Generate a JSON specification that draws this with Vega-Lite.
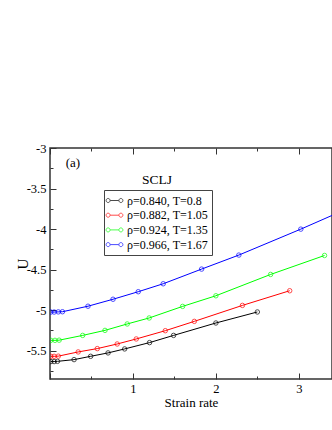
{
  "$schema": "https://vega.github.io/schema/vega-lite/v6.json",
  "width": 282,
  "height": 231,
  "autosize": {"type": "none"},
  "padding": {"left": 50, "top": 148, "right": 0, "bottom": 51},
  "background": "white",
  "config": {
    "font": "Liberation Serif",
    "view": {"stroke": "#333", "strokeWidth": 1.5},
    "axis": {"grid": false, "domain": false, "tickColor": "#333", "labelColor": "black", "titleColor": "black", "labelFont": "Liberation Serif", "titleFont": "Liberation Serif", "labelFontSize": 12.5, "titleFontSize": 13, "titleFontWeight": "normal"},
    "legend": {"labelFont": "Liberation Serif"},
    "text": {"font": "Liberation Serif"}
  },
  "data": {
    "values": [
      {"s": "ρ=0.840, T=0.8", "x": 0.01, "y": -5.635},
      {"s": "ρ=0.840, T=0.8", "x": 0.05, "y": -5.635},
      {"s": "ρ=0.840, T=0.8", "x": 0.09, "y": -5.632},
      {"s": "ρ=0.840, T=0.8", "x": 0.29, "y": -5.611},
      {"s": "ρ=0.840, T=0.8", "x": 0.49, "y": -5.57},
      {"s": "ρ=0.840, T=0.8", "x": 0.7, "y": -5.528},
      {"s": "ρ=0.840, T=0.8", "x": 0.9, "y": -5.479},
      {"s": "ρ=0.840, T=0.8", "x": 1.2, "y": -5.401},
      {"s": "ρ=0.840, T=0.8", "x": 1.49, "y": -5.312},
      {"s": "ρ=0.840, T=0.8", "x": 2.0, "y": -5.159},
      {"s": "ρ=0.840, T=0.8", "x": 2.5, "y": -5.023},
      {"s": "ρ=0.882, T=1.05", "x": 0.01, "y": -5.57},
      {"s": "ρ=0.882, T=1.05", "x": 0.05, "y": -5.57},
      {"s": "ρ=0.882, T=1.05", "x": 0.1, "y": -5.568},
      {"s": "ρ=0.882, T=1.05", "x": 0.34, "y": -5.516},
      {"s": "ρ=0.882, T=1.05", "x": 0.57, "y": -5.475},
      {"s": "ρ=0.882, T=1.05", "x": 0.81, "y": -5.418},
      {"s": "ρ=0.882, T=1.05", "x": 1.04, "y": -5.356},
      {"s": "ρ=0.882, T=1.05", "x": 1.39, "y": -5.254},
      {"s": "ρ=0.882, T=1.05", "x": 1.74, "y": -5.139},
      {"s": "ρ=0.882, T=1.05", "x": 2.32, "y": -4.942},
      {"s": "ρ=0.882, T=1.05", "x": 2.89, "y": -4.761},
      {"s": "ρ=0.924, T=1.35", "x": 0.01, "y": -5.373},
      {"s": "ρ=0.924, T=1.35", "x": 0.06, "y": -5.373},
      {"s": "ρ=0.924, T=1.35", "x": 0.11, "y": -5.371},
      {"s": "ρ=0.924, T=1.35", "x": 0.394, "y": -5.312},
      {"s": "ρ=0.924, T=1.35", "x": 0.663, "y": -5.25},
      {"s": "ρ=0.924, T=1.35", "x": 0.931, "y": -5.171},
      {"s": "ρ=0.924, T=1.35", "x": 1.196, "y": -5.097},
      {"s": "ρ=0.924, T=1.35", "x": 1.599, "y": -4.954},
      {"s": "ρ=0.924, T=1.35", "x": 2.0, "y": -4.823},
      {"s": "ρ=0.924, T=1.35", "x": 2.66, "y": -4.56},
      {"s": "ρ=0.924, T=1.35", "x": 3.31, "y": -4.326},
      {"s": "ρ=0.966, T=1.67", "x": 0.01, "y": -5.024},
      {"s": "ρ=0.966, T=1.67", "x": 0.05, "y": -5.024},
      {"s": "ρ=0.966, T=1.67", "x": 0.1, "y": -5.022},
      {"s": "ρ=0.966, T=1.67", "x": 0.15, "y": -5.02},
      {"s": "ρ=0.966, T=1.67", "x": 0.458, "y": -4.952},
      {"s": "ρ=0.966, T=1.67", "x": 0.76, "y": -4.866},
      {"s": "ρ=0.966, T=1.67", "x": 1.064, "y": -4.773},
      {"s": "ρ=0.966, T=1.67", "x": 1.365, "y": -4.675},
      {"s": "ρ=0.966, T=1.67", "x": 1.828, "y": -4.494},
      {"s": "ρ=0.966, T=1.67", "x": 2.277, "y": -4.321},
      {"s": "ρ=0.966, T=1.67", "x": 3.024, "y": -4.001},
      {"s": "ρ=0.966, T=1.67", "x": 3.65, "y": -3.72}
    ]
  },
  "resolve": {"axis": {"x": "independent", "y": "independent"}},
  "layer": [
    {
      "mark": {"type": "line", "strokeWidth": 1, "clip": true},
      "encoding": {
        "x": {"field": "x", "type": "quantitative", "scale": {"domain": [0, 3.4], "nice": false, "zero": false},
              "axis": {"orient": "bottom", "values": [0, 1, 2, 3], "labelExpr": "datum.value == 0 ? '' : '' + datum.value", "offset": -6, "tickSize": 6, "labelPadding": 3, "title": "Strain rate", "titlePadding": 2}},
        "y": {"field": "y", "type": "quantitative", "scale": {"domain": [-5.85, -3], "nice": false, "zero": false},
              "axis": {"orient": "left", "values": [-3, -3.5, -4, -4.5, -5, -5.5], "labelExpr": "'' + datum.value", "offset": -6, "tickSize": 6, "labelPadding": 4, "title": "U", "titleFontSize": 15, "titlePadding": -4}},
        "color": {"field": "s", "type": "nominal",
                  "scale": {"domain": ["ρ=0.840, T=0.8", "ρ=0.882, T=1.05", "ρ=0.924, T=1.35", "ρ=0.966, T=1.67"], "range": ["#000000", "#ff0000", "#00ff00", "#0000ff"]},
                  "legend": {"orient": "none", "legendX": 54, "legendY": 42, "title": null, "padding": 4, "rowPadding": 1.7,
                             "symbolType": "M-0.73,0H0.73M-1.4,0A0.33,0.33 0 1,1 -0.73,0A0.33,0.33 0 1,1 -1.4,0M0.73,0A0.33,0.33 0 1,1 1.4,0A0.33,0.33 0 1,1 0.73,0",
                             "symbolSize": 144, "symbolStrokeWidth": 1, "symbolFillColor": "transparent",
                             "labelFontSize": 12, "labelOffset": 6, "strokeColor": "#444", "fillColor": "white"}}
      }
    },
    {
      "mark": {"type": "point", "filled": false, "size": 20, "strokeWidth": 1, "clip": true},
      "encoding": {
        "x": {"field": "x", "type": "quantitative", "axis": {"orient": "top", "values": [0, 1, 2, 3], "labels": false, "offset": -6, "tickSize": 6, "title": null}},
        "y": {"field": "y", "type": "quantitative", "axis": null},
        "color": {"field": "s", "type": "nominal"}
      }
    },
    {
      "data": {"values": [{"label": "(a)"}]},
      "mark": {"type": "text", "fontSize": 13, "fontWeight": "normal", "fill": "black", "align": "left", "baseline": "middle"},
      "encoding": {
        "text": {"field": "label", "type": "nominal"},
        "x": {"datum": 0.19, "type": "quantitative", "axis": {"orient": "bottom", "values": [0.5, 1.5, 2.5], "labels": false, "offset": -3, "tickSize": 3, "title": null}},
        "y": {"datum": -3.18, "type": "quantitative", "axis": {"orient": "left", "values": [-3.25, -3.75, -4.25, -4.75, -5.25, -5.75], "labels": false, "offset": -3, "tickSize": 3, "title": null}}
      }
    },
    {
      "data": {"values": [{"label": "SCLJ"}]},
      "mark": {"type": "text", "fontSize": 13.5, "fontWeight": "normal", "fill": "black", "align": "center", "baseline": "middle"},
      "encoding": {
        "text": {"field": "label", "type": "nominal"},
        "x": {"datum": 1.29, "type": "quantitative", "axis": {"orient": "top", "values": [0.5, 1.5, 2.5], "labels": false, "offset": -3, "tickSize": 3, "title": null}},
        "y": {"datum": -3.39, "type": "quantitative", "axis": null}
      }
    }
  ]
}
